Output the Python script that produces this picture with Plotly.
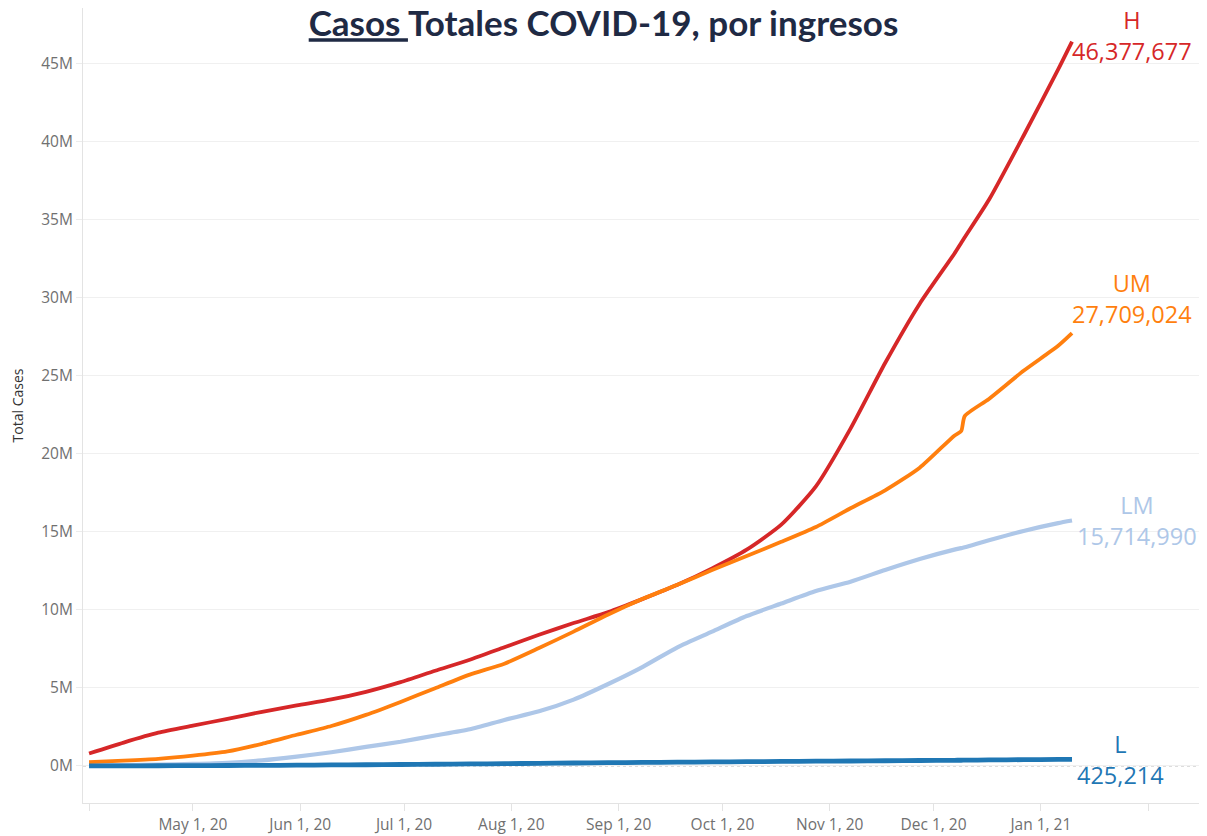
import plotly.graph_objects as go

# ---- data (values in millions of cases) ----
dates = [
    "2020-04-01", "2020-04-11", "2020-04-21", "2020-05-01", "2020-05-11", "2020-05-21",
    "2020-05-31", "2020-06-10", "2020-06-20", "2020-06-30", "2020-07-10", "2020-07-20",
    "2020-07-30", "2020-08-09", "2020-08-19", "2020-08-29", "2020-09-08", "2020-09-18",
    "2020-09-28", "2020-10-08", "2020-10-18", "2020-10-28", "2020-11-07", "2020-11-17",
    "2020-11-27", "2020-12-07", "2020-12-09", "2020-12-10", "2020-12-17", "2020-12-27",
    "2021-01-06", "2021-01-10",
]
high_income = [0.80, 1.50, 2.13, 2.58, 3.02, 3.47, 3.88, 4.26, 4.75, 5.37, 6.10, 6.80,
               7.60, 8.40, 9.15, 9.85, 10.70, 11.60, 12.65, 13.85, 15.45, 17.90, 21.60, 25.80,
               29.60, 32.80, 33.50, 33.85, 36.25, 40.35, 44.60, 46.377677]
upper_middle = [0.25, 0.34, 0.46, 0.66, 0.93, 1.42, 2.00, 2.56, 3.27, 4.10, 4.98, 5.85,
                6.55, 7.55, 8.60, 9.70, 10.70, 11.60, 12.55, 13.45, 14.35, 15.30, 16.50, 17.65,
                19.10, 21.15, 21.45, 22.40, 23.50, 25.30, 26.90, 27.709024]
lower_middle = [0.04, 0.06, 0.09, 0.13, 0.20, 0.36, 0.60, 0.88, 1.22, 1.55, 1.95, 2.35,
                2.95, 3.50, 4.25, 5.25, 6.35, 7.60, 8.60, 9.60, 10.40, 11.20, 11.80, 12.55,
                13.25, 13.85, 13.95, 14.00, 14.45, 15.05, 15.55, 15.714990]
low_income = [0.005, 0.010, 0.015, 0.020, 0.030, 0.040, 0.050, 0.065, 0.080, 0.095, 0.110, 0.130,
              0.150, 0.170, 0.190, 0.210, 0.230, 0.245, 0.260, 0.275, 0.290, 0.305, 0.320, 0.335,
              0.350, 0.365, 0.368, 0.370, 0.385, 0.405, 0.420, 0.425214]

series_names = ["H", "LM", "UM", "L"]
series_values = [high_income, lower_middle, upper_middle, low_income]
series_colors = ["#d62728", "#aec7e8", "#ff7f0e", "#1f77b4"]
series_widths = [3.8, 4.2, 3.8, 4.8]
label_yshift = [6, 0, 35, 0]
label_xshift = [-2, 3, -2, 3]

x_tick_vals = ["2020-04-01", "2020-05-01", "2020-06-01", "2020-07-01", "2020-08-01",
               "2020-09-01", "2020-10-01", "2020-11-01", "2020-12-01", "2021-01-01", "2021-02-01"]
x_tick_text = ["", "May 1, 20", "Jun 1, 20", "Jul 1, 20", "Aug 1, 20", "Sep 1, 20",
               "Oct 1, 20", "Nov 1, 20", "Dec 1, 20", "Jan 1, 21", ""]
y_tick_vals = [0, 5, 10, 15, 20, 25, 30, 35, 40, 45]
y_tick_text = ["0M", "5M", "10M", "15M", "20M", "25M", "30M", "35M", "40M", "45M"]

title_text = "<u>Casos </u>Totales COVID-19, por ingresos"

# ---- figure ----
fig = go.Figure()
for name, vals, col, w in zip(series_names, series_values, series_colors, series_widths):
    fig.add_trace(go.Scatter(
        x=dates, y=[v * 1e6 for v in vals], mode="lines", name=name,
        line=dict(color=col, width=w, shape="spline", smoothing=0.6), showlegend=False,
    ))

for name, vals, col, ys, xs in zip(series_names, series_values, series_colors,
                                   label_yshift, label_xshift):
    fig.add_annotation(
        x=dates[-1], y=vals[-1] * 1e6, xref="x", yref="y",
        text=f"{name}<br>{round(vals[-1] * 1e6):,}",
        showarrow=False, xanchor="left", yanchor="middle", align="center",
        xshift=xs, yshift=ys,
        font=dict(family="Open Sans", size=23.5, color=col),
    )

# dotted zero reference line
fig.add_shape(type="line", xref="paper", yref="y", x0=0, x1=1, y0=0, y1=0,
              line=dict(color="#b8b8b8", width=1, dash="dot"), layer="below")

# the page body has an 8px margin, so the figure is 8px smaller than the window
fig.update_layout(
    width=1199, height=828,
    margin=dict(l=75, r=0, t=0, b=33),
    paper_bgcolor="white", plot_bgcolor="white",
    title=dict(text=title_text, x=0.5 - 4 / 1199, xref="container", xanchor="center",
               y=1 - 16 / 828, yref="container", yanchor="middle",
               font=dict(family="Lato", size=35, color="#1f2a44", weight="bold")),
    font=dict(family="Open Sans", color="#666666"),
    xaxis=dict(
        type="date", range=["2020-03-30 06:00", "2021-02-18"],
        tickvals=x_tick_vals, ticktext=x_tick_text,
        showgrid=False, zeroline=False,
        showline=True, linecolor="#e3e3e3", linewidth=1,
        ticks="outside", ticklen=7, tickcolor="#e3e3e3",
        tickfont=dict(family="Open Sans", size=15.5, color="#707070"),
    ),
    yaxis=dict(
        range=[-2.37e6, 48.53e6],
        tickvals=[v * 1e6 for v in y_tick_vals], ticktext=y_tick_text,
        showgrid=True, gridcolor="#f0f0f0", gridwidth=1, zeroline=False,
        showline=True, linecolor="#e3e3e3", linewidth=1,
        ticks="outside", ticklen=6, tickcolor="#ececec",
        tickfont=dict(family="Open Sans", size=15.5, color="#707070"),
        title=dict(text="Total Cases", standoff=14,
                   font=dict(family="Open Sans", size=14, color="#333333")),
    ),
)

fig.write_html("out.html")
